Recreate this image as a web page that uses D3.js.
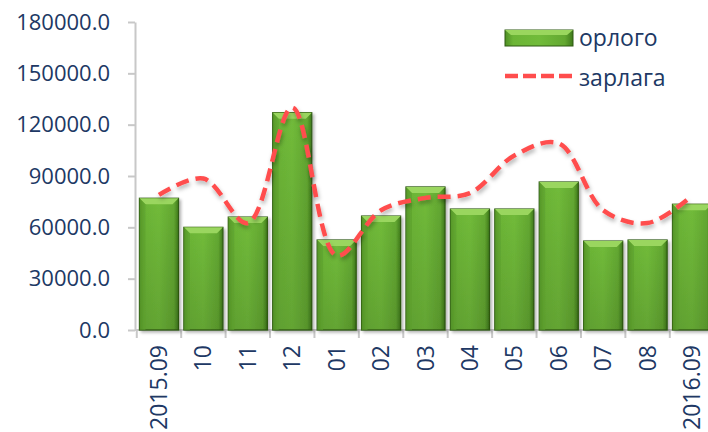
<!DOCTYPE html>
<html>
<head>
<meta charset="utf-8">
<script src="https://cdn.jsdelivr.net/npm/d3@7"></script>
<style>
  html, body { margin: 0; padding: 0; background: #fff; }
  svg { display: block; font-family: "Open Sans", "Noto Sans", sans-serif; }
  .ev-label { fill: #203864; font-size: 22px; font-family: "Open Sans", "Noto Sans", sans-serif; }
  .ev-axis path, .ev-axis line { stroke: #c8c8c8; stroke-width: 2; }
</style>
</head>
<body>
<svg id="chart" width="708" height="432"></svg>
<script>
"use strict";

const categories = ["2015.09", "10", "11", "12", "01", "02", "03", "04", "05", "06", "07", "08", "2016.09"];
const orlogo = [77000, 60000, 66000, 127000, 52600, 66600, 83600, 70700, 70700, 86500, 52000, 52600, 73500];
const zarlaga = [79000, 88500, 62500, 130000, 43500, 70000, 77200, 80000, 102000, 109000, 70000, 62500, 78500];
const yTicks = [0, 30000, 60000, 90000, 120000, 150000, 180000];
const legendLabels = ["орлого", "зарлага"];

const margins = {top: 22, right: 0, bottom: 102, left: 135};
const svg = d3.select("#chart");
const width = 708 - margins.left - margins.right;
const height = 432 - margins.top - margins.bottom;

const defs = svg.append("defs");

const barGrad = defs.append("linearGradient")
    .attr("id", "barGrad")
    .attr("x1", "0").attr("x2", "1").attr("y1", "0").attr("y2", "0");
barGrad.append("stop").attr("offset", "0").attr("stop-color", "#4f8f24");
barGrad.append("stop").attr("offset", "0.12").attr("stop-color", "#6cb536");
barGrad.append("stop").attr("offset", "0.5").attr("stop-color", "#71bb3a");
barGrad.append("stop").attr("offset", "0.88").attr("stop-color", "#63a831");
barGrad.append("stop").attr("offset", "1").attr("stop-color", "#3f7a1b");

const vGrad = defs.append("linearGradient")
    .attr("id", "barShade")
    .attr("x1", "0").attr("x2", "0").attr("y1", "0").attr("y2", "1");
vGrad.append("stop").attr("offset", "0").attr("stop-color", "#000").attr("stop-opacity", 0);
vGrad.append("stop").attr("offset", "1").attr("stop-color", "#000").attr("stop-opacity", 0.12);

const shadow = defs.append("filter")
    .attr("id", "shadow")
    .attr("x", "-20%").attr("y", "-20%").attr("width", "140%").attr("height", "140%");
shadow.append("feDropShadow")
    .attr("dx", 2).attr("dy", 2).attr("stdDeviation", 1.5)
    .attr("flood-color", "#000").attr("flood-opacity", 0.3);

const lineShadow = defs.append("filter")
    .attr("id", "lineShadow")
    .attr("x", "-10%").attr("y", "-10%").attr("width", "120%").attr("height", "120%");
lineShadow.append("feDropShadow")
    .attr("dx", 1).attr("dy", 3).attr("stdDeviation", 2)
    .attr("flood-color", "#000").attr("flood-opacity", 0.3);

const g = svg.append("g")
    .attr("transform", `translate(${margins.left}, ${margins.top})`);

const xScale = d3.scaleBand()
    .domain(categories)
    .range([0, 581])
    .paddingInner(0.12)
    .paddingOuter(0.1);

const yScale = d3.scaleLinear()
    .domain([0, 180000])
    .range([height, 0]);

// y axis
const yAxis = g.append("g")
    .attr("class", "ev-axis")
    .call(d3.axisLeft(yScale)
            .tickValues(yTicks)
            .tickFormat(d3.format(".1f"))
            .tickSize(7)
            .tickPadding(18)
            .tickSizeOuter(0));
yAxis.attr("font-family", null).attr("font-size", null);
yAxis.selectAll("text").attr("class", "ev-label");

// x axis: ticks on category boundaries
const step = xScale.step();
const boundaries = categories.map(c => xScale(c) - step * xScale.paddingInner() / 2);
const xAxis = g.append("g")
    .attr("class", "ev-axis")
    .attr("transform", `translate(0, ${height})`);
xAxis.append("line")
    .attr("x1", 0).attr("x2", width).attr("y1", 0).attr("y2", 0);
xAxis.selectAll("line.tick")
    .data(boundaries.concat(boundaries[boundaries.length - 1] + step))
    .join("line")
    .attr("class", "tick")
    .attr("x1", d => d).attr("x2", d => d)
    .attr("y1", 0).attr("y2", 8);
xAxis.selectAll("text")
    .data(categories)
    .join("text")
    .attr("class", "ev-label")
    .attr("text-anchor", "end")
    .style("font-size", "23px")
    .attr("transform", d => `translate(${xScale(d) + xScale.bandwidth() / 2 + 8}, 15) rotate(-90)`)
    .text(d => d);

// bars
const bars = g.append("g")
    .selectAll("g.bar")
    .data(orlogo)
    .join("g")
    .attr("class", "bar")
    .attr("filter", "url(#shadow)");

bars.append("rect")
    .attr("x", (d, i) => xScale(categories[i]))
    .attr("y", d => yScale(d))
    .attr("width", xScale.bandwidth())
    .attr("height", d => height - yScale(d))
    .attr("fill", "url(#barGrad)")
    .attr("stroke", "#2f5a12")
    .attr("stroke-width", 1.2);

bars.append("rect")
    .attr("x", (d, i) => xScale(categories[i]))
    .attr("y", d => yScale(d))
    .attr("width", xScale.bandwidth())
    .attr("height", d => height - yScale(d))
    .attr("fill", "url(#barShade)");

const bevel = 6;
bars.append("path")
    .attr("d", (d, i) => {
      const x0 = xScale(categories[i]);
      const x1 = x0 + xScale.bandwidth();
      const y0 = yScale(d);
      return `M${x0},${y0} L${x1},${y0} L${x1 - bevel},${y0 + bevel} L${x0 + bevel},${y0 + bevel} Z`;
    })
    .attr("fill", "#9ad65e");

bars.append("path")
    .attr("d", (d, i) => {
      const x0 = xScale(categories[i]);
      const y0 = yScale(d);
      return `M${x0},${y0} L${x0 + bevel},${y0 + bevel} L${x0 + bevel},${height} L${x0},${height} Z`;
    })
    .attr("fill", "#5c9e2d")
    .attr("opacity", 0.6);

// line
const line = d3.line()
    .x((d, i) => xScale(categories[i]) + xScale.bandwidth() / 2)
    .y(d => yScale(d))
    .curve(d3.curveCatmullRom.alpha(0.5));

g.append("path")
    .datum(zarlaga)
    .attr("d", line)
    .attr("fill", "none")
    .attr("stroke", "#ff4d4d")
    .attr("stroke-width", 4.5)
    .attr("stroke-dasharray", "13,7")
    .attr("filter", "url(#lineShadow)");

// legend
const legend = svg.append("g").attr("transform", "translate(505, 30)");
legend.append("rect")
    .attr("x", 0).attr("y", 0).attr("width", 68).attr("height", 16)
    .attr("fill", "url(#barGrad)")
    .attr("stroke", "#2f5a12");
legend.append("path")
    .attr("d", "M0,0 L68,0 L62,5 L6,5 Z")
    .attr("fill", "#9ad65e");
legend.append("line")
    .attr("x1", 0).attr("x2", 68).attr("y1", 46).attr("y2", 46)
    .attr("stroke", "#ff4d4d")
    .attr("stroke-width", 4.5)
    .attr("stroke-dasharray", "13,5");
legend.selectAll("text")
    .data(legendLabels)
    .join("text")
    .attr("class", "ev-label")
    .attr("x", 74)
    .attr("y", (d, i) => 16 + i * 40)
    .style("font-size", "23px")
    .text(d => d);
</script>
</body>
</html>
